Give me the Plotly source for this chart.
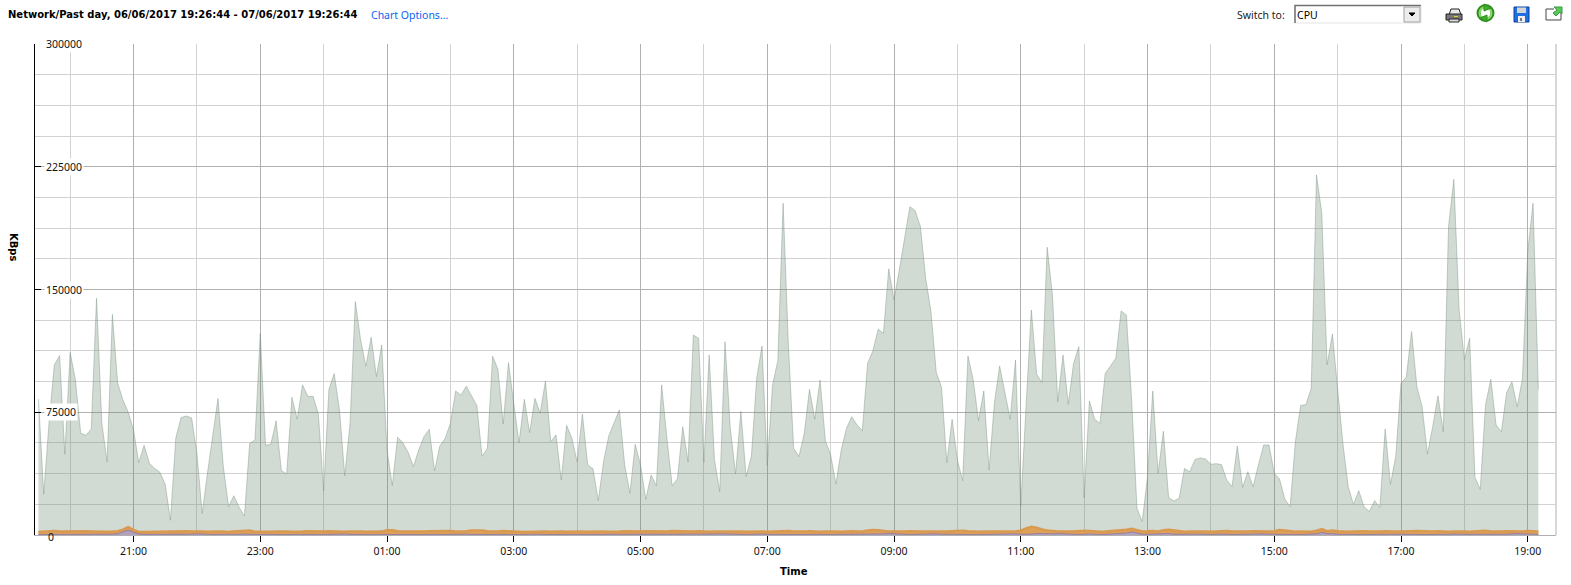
import pandas as pd
import plotly.graph_objects as go

W, H = 1571, 585
ML, MR, MT, MB = 35, 15, 44, 50

START = "2017-06-06 19:30:00"
STEP_MIN = 5
RANGE_X = ["2017-06-06 19:26:44", "2017-06-07 19:26:44"]

network = [
 83100,24900,68200,103900,109600,49300,111600,94700,62100,60900,
 64800,144600,68200,44600,134800,92700,82500,75000,64200,44200,
 54800,43800,40700,38300,31000,9000,59100,71700,72700,71500,
 49900,13200,37700,62100,83500,41800,17300,24000,16900,11600,
 56000,58100,123200,54800,55400,69700,39300,37300,84100,70700,
 91700,84700,84700,73900,26900,89000,98600,76400,36100,68200,
 142600,119200,103100,120800,96800,116100,51900,30100,59700,56400,
 50500,41800,51900,60100,64600,39100,54400,58900,68200,88000,
 85400,90900,84900,79200,48100,53000,109200,101200,67800,105300,
 80500,56400,82900,62500,83500,74400,94100,57000,61100,33600,
 67000,59100,44800,73900,42800,40500,21000,44800,60700,68200,
 76400,42800,25500,55400,42800,21800,36700,30100,91700,59100,
 30100,34400,66200,44600,122200,120200,44200,110000,46200,26500,
 118100,65200,37300,75600,35600,48300,95700,115500,42400,91700,
 106500,202700,116100,53000,47900,62100,89000,70700,94700,57600,
 48900,31200,51900,65200,72300,67200,63800,104900,112400,125700,
 123200,162600,143600,161900,180300,200600,198200,188400,156800,136500,
 99400,90200,44200,70700,45800,33200,109400,94700,69900,88000,
 39700,80500,103300,86600,70700,106900,17700,78400,137500,98400,
 93100,175800,146700,81500,110000,79900,104900,115100,22800,81900,
 70700,68200,98800,103300,108000,136900,134400,82500,16300,8100,
 35600,88000,37700,63400,22800,20800,22400,40700,38700,46200,
 47100,46400,43200,43600,43000,33600,29500,54400,29100,38700,
 29500,42800,55000,55000,37700,34200,21800,17300,57000,79200,
 79600,89600,220000,196600,103900,122800,87600,56000,29500,18700,
 27100,17300,14300,21000,16900,64800,31000,47900,92700,96400,
 124300,90600,78400,49500,66200,85100,63100,188400,217300,137500,
 107300,120200,35200,27900,79400,95100,67200,63100,87000,93700,
 78400,95700,173100,202700,89000,
]

disk_io = [
 1900,2100,2700,2500,2100,2200,2000,2200,2100,2300,
 2200,2000,2100,2000,2100,2300,3300,4900,3200,1900,
 1800,1900,2000,2000,2200,2100,2200,2300,2300,2200,
 2300,2100,2000,1900,2100,2200,1900,2100,2400,2900,
 2800,2000,1900,1800,2000,2200,2300,2100,2000,1900,
 2100,2300,2200,2000,2100,2300,2100,1900,2000,2200,
 2300,2200,2000,2100,2300,2100,2900,3000,2300,2000,
 2100,2200,2000,2100,2300,2400,2200,2300,2400,2100,
 2000,2300,2800,3000,2800,2300,2100,2200,2400,2400,
 2200,2000,1900,2000,2200,2300,2100,2000,2200,2100,
 2000,2100,2300,2200,2000,2100,2300,2200,2000,1900,
 2100,2300,2200,2000,2100,2300,2200,2100,2000,2200,
 2400,2300,2100,2000,2200,2300,2100,2000,2200,2400,
 2200,2100,2300,2200,2000,2100,2300,2200,2000,2100,
 2300,2500,2400,2100,2000,2200,2300,2100,2000,2200,
 2300,2100,2000,2200,2300,2100,2200,2800,3100,2900,
 2300,2100,2200,2000,2100,2300,2400,2200,2100,2000,
 2300,2200,2100,2300,2500,2600,2300,2100,2000,2200,
 2100,2000,1900,2000,2100,2200,2700,4000,5000,4500,
 3400,2800,2400,2200,2100,2000,2200,2400,2700,2500,
 2200,2000,2100,2300,2600,2800,3300,3800,2900,2200,
 2300,2500,2200,3000,3200,2700,2200,2000,2100,2200,
 2400,2200,2000,2100,2500,2400,2200,2100,2000,2200,
 2300,2100,2000,2100,2300,3100,2800,2200,2000,2100,
 2200,2000,2700,3600,2400,2800,2300,2100,2000,2200,
 2400,2300,2100,2000,2200,2300,2400,2200,2100,2000,
 2300,2400,2200,2000,2100,2300,2100,2000,2200,2300,
 2100,2000,2200,2500,2600,2200,2000,2100,2300,2100,
 2000,2100,2400,2300,2200,
]

swap_io = [
 300,300,400,300,300,400,500,600,500,500,
 400,300,300,400,500,800,1800,3000,1700,600,
 400,300,300,300,400,500,400,300,400,500,
 700,500,300,300,400,300,300,300,400,600,
 400,300,300,400,500,400,300,300,400,300,
 300,400,400,300,400,300,300,400,600,400,
 300,300,400,300,400,500,400,300,300,400,
 500,400,300,300,500,400,300,400,300,300,
 400,500,400,300,300,400,300,400,500,400,
 300,300,400,600,700,500,300,300,400,300,
 400,300,300,400,500,400,300,300,400,300,
 300,400,500,700,500,400,300,300,400,500,
 400,300,400,500,400,300,300,400,600,800,
 600,400,300,400,300,400,700,600,400,300,
 400,500,400,300,300,400,300,500,400,300,
 300,400,300,300,500,400,300,300,400,500,
 700,900,700,500,400,300,400,500,800,900,
 700,500,400,300,400,500,400,300,300,400,
 500,400,300,500,600,700,500,300,500,900,
 700,500,700,900,700,600,400,300,500,700,
 400,300,400,600,800,900,1200,1900,1200,500,
 500,600,400,700,900,500,400,300,400,500,
 600,400,300,500,700,500,300,400,500,400,
 300,500,700,500,400,600,500,300,400,300,
 400,500,800,1600,900,800,500,300,400,300,
 400,500,300,400,500,400,300,400,500,400,
 300,300,500,400,300,400,300,400,600,400,
 300,400,500,400,700,500,300,400,500,800,
 900,700,600,500,400,
]

x_tick_format = "%H:%M"
y_major_ticks = [0, 75000, 150000, 225000, 300000]
icon_green = "#3fae2a"


def fx(v):
    return (v - ML) / (W - ML - MR)


def fy(v):
    return 1 - (v - MT) / (H - MT - MB)


def path(points, close=True):
    s = "M " + " L ".join(f"{fx(a):.5f},{fy(b):.5f}" for a, b in points)
    return s + (" Z" if close else "")


times = pd.date_range(START, periods=len(network), freq=f"{STEP_MIN}min")

fig = go.Figure()
fig.add_trace(go.Scatter(x=times, y=network, mode="lines", fill="tozeroy",
                         line=dict(color="rgba(120,145,125,0.42)", width=1),
                         fillcolor="rgba(110,135,115,0.31)", hoverinfo="skip"))
fig.add_trace(go.Scatter(x=times, y=disk_io, mode="lines", fill="tozeroy",
                         line=dict(color="#d99a50", width=2.4),
                         fillcolor="rgba(222,158,82,0.95)", hoverinfo="skip"))
fig.add_trace(go.Scatter(x=times, y=swap_io, mode="lines", fill="tozeroy",
                         line=dict(color="rgba(120,105,170,0.6)", width=1),
                         fillcolor="rgba(175,160,195,0.95)", hoverinfo="skip"))

FONT = "Noto Sans"
BOLD_FONT = "DejaVu Sans"
ann = []


def text(x, y, s, size=10.5, color="#111111", bold=False, anchor="left", bg=None, angle=0):
    ann.append(dict(x=fx(x), y=fy(y), xref="paper", yref="paper", text=f"<b>{s}</b>" if bold else s,
                    showarrow=False, xanchor=anchor, yanchor="middle", textangle=angle,
                    font=dict(family=BOLD_FONT if bold else FONT, size=size, color=color), bgcolor=bg, borderpad=1))


text(6, 14.5, "Network/Past day, 06/06/2017 19:26:44 - 07/06/2017 19:26:44", size=10, bold=True, color="#000000")
text(369, 14.5, "Chart Options...", size=10.5, color="#0a64f0")
text(1235, 14.5, "Switch to:", size=10.5, color="#222222")
text(1295, 14.5, "CPU", size=10.5, color="#000000")
text(794, 571, "Time", size=10, bold=True, color="#000000", anchor="center")
text(14, 247, "KBps", size=10, bold=True, color="#000000", anchor="center", angle=90)
for v in y_major_ticks[1:]:
    text(44, MT + (300000 - v) / 300000 * (H - MT - MB), f"{v}", size=10.5, bg="white")
text(46, 537, "0", size=10.5)

shapes = [
    dict(type="line", xref="paper", yref="paper", x0=1, x1=1, y0=0, y1=1, line=dict(color="#b0b0b0", width=1), layer="below"),
    # select box
    dict(type="rect", xref="paper", yref="paper", x0=fx(1295), x1=fx(1421), y0=fy(5.5), y1=fy(23), line=dict(color="#e4e4e4", width=1), fillcolor="white"),
    dict(type="path", xref="paper", yref="paper", path=path([(1295, 23), (1295, 5.5), (1421, 5.5)], False), line=dict(color="#707070", width=1.5)),
    dict(type="rect", xref="paper", yref="paper", x0=fx(1404), x1=fx(1420), y0=fy(7), y1=fy(22), line=dict(color="#a0a0a0", width=1), fillcolor="#ececec"),
    dict(type="path", xref="paper", yref="paper", path=path([(1409, 13), (1415, 13), (1412, 16)]), line=dict(color="black", width=1), fillcolor="black"),
    # printer
    dict(type="path", xref="paper", yref="paper", path=path([(1449, 15), (1451, 9), (1459, 9), (1461, 15)]), line=dict(color="#222", width=1), fillcolor="#e8e8e8"),
    dict(type="rect", xref="paper", yref="paper", x0=fx(1446), x1=fx(1462), y0=fy(14), y1=fy(20), line=dict(color="#222", width=1), fillcolor="#777"),
    dict(type="rect", xref="paper", yref="paper", x0=fx(1449), x1=fx(1459), y0=fy(19), y1=fy(22), line=dict(color="#222", width=1), fillcolor="#ddd"),
    dict(type="rect", xref="paper", yref="paper", x0=fx(1454), x1=fx(1458), y0=fy(16), y1=fy(17), line=dict(width=0), fillcolor="#e8d020"),
    # refresh
    dict(type="circle", xref="paper", yref="paper", x0=fx(1478.5), x1=fx(1492.5), y0=fy(6), y1=fy(20), line=dict(color="#2f8f20", width=4), fillcolor="white"),
    dict(type="circle", xref="paper", yref="paper", x0=fx(1479.5), x1=fx(1491.5), y0=fy(7), y1=fy(19), line=dict(color="#86dc62", width=2)),
    dict(type="path", xref="paper", yref="paper", path=path([(1484, 4), (1491, 8), (1484, 11)]), line=dict(color="#2f8f20", width=1), fillcolor=icon_green),
    dict(type="path", xref="paper", yref="paper", path=path([(1487, 15), (1480, 18), (1487, 22)]), line=dict(color="#2f8f20", width=1), fillcolor=icon_green),
    # save
    dict(type="rect", xref="paper", yref="paper", x0=fx(1514), x1=fx(1529), y0=fy(7), y1=fy(22), line=dict(color="#0a3fa8", width=1), fillcolor="#1f6fe0"),
    dict(type="rect", xref="paper", yref="paper", x0=fx(1517), x1=fx(1526), y0=fy(7.5), y1=fy(13), line=dict(width=0), fillcolor="#d5d5d5"),
    dict(type="rect", xref="paper", yref="paper", x0=fx(1518), x1=fx(1525), y0=fy(16), y1=fy(22), line=dict(width=0), fillcolor="#f0f0f0"),
    dict(type="rect", xref="paper", yref="paper", x0=fx(1520), x1=fx(1522), y0=fy(18), y1=fy(21), line=dict(width=0), fillcolor="#777"),
    # export
    dict(type="path", xref="paper", yref="paper", path=path([(1554, 9), (1546, 9), (1546, 20), (1561, 20), (1561, 13)], False), line=dict(color="#444", width=1)),
    dict(type="path", xref="paper", yref="paper", path=path([(1554, 7), (1562, 7), (1562, 14), (1560, 12), (1556, 16), (1553, 13), (1557, 10)]), line=dict(color="#3a9a40", width=1), fillcolor="#58c85a"),
]

fig.update_layout(
    width=W, height=H, margin=dict(l=ML, r=MR, t=MT, b=MB, pad=0),
    paper_bgcolor="white", plot_bgcolor="white", showlegend=False,
    font=dict(family=FONT, size=10.5, color="#111111"),
    annotations=ann, shapes=shapes,
    xaxis=dict(type="date", range=RANGE_X, tick0="2017-06-06 21:00:00", dtick=7200000, tickformat=x_tick_format,
               ticks="outside", ticklen=6, tickcolor="black", tickwidth=1,
               tickfont=dict(family=FONT, size=10.5, color="#111111"),
               showgrid=True, gridcolor="#b0b0b0", gridwidth=1,
               minor=dict(dtick=3600000, tick0="2017-06-06 20:00:00", showgrid=True, gridcolor="#d2d2d2", gridwidth=1, ticks=""),
               showline=True, linecolor="#b0b0b0", linewidth=1, zeroline=False, fixedrange=True),
    yaxis=dict(range=[0, 300000], tick0=0, dtick=75000, showticklabels=False,
               ticks="inside", ticklen=6, tickcolor="black", tickwidth=1,
               showgrid=True, gridcolor="#b0b0b0", gridwidth=1,
               minor=dict(dtick=18750, tick0=0, showgrid=True, gridcolor="#d2d2d2", gridwidth=1, ticks=""),
               showline=True, linecolor="black", linewidth=1, zeroline=False, fixedrange=True),
)

fig.write_html("out.html", config={"displayModeBar": False},
               post_script="document.body.style.margin='0';")
